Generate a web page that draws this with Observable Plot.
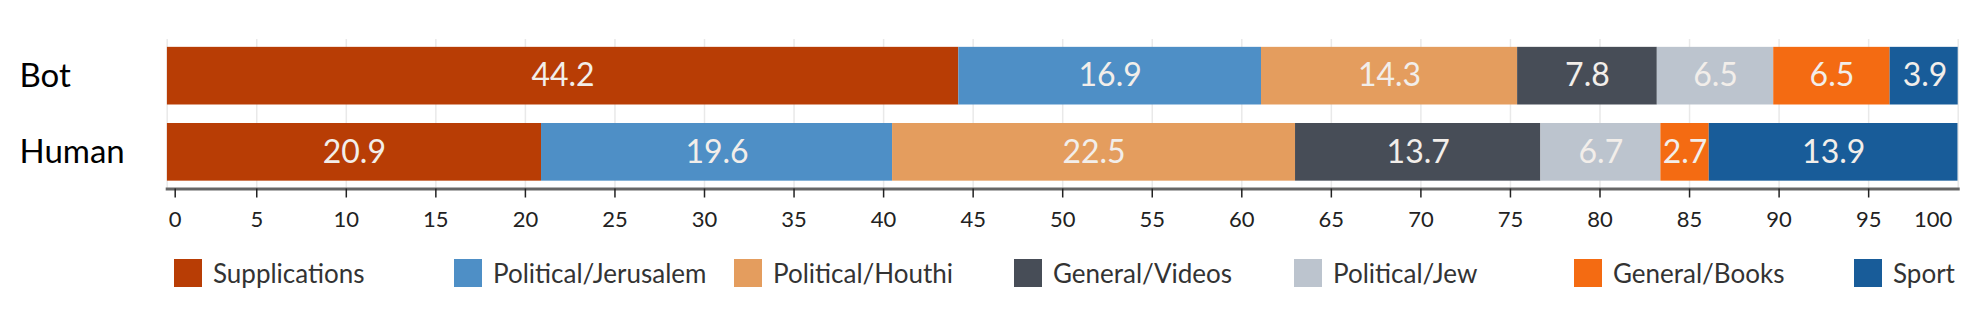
<!DOCTYPE html>
<html><head><meta charset="utf-8">
<script src="https://cdn.jsdelivr.net/npm/d3@7"></script>
<script src="https://cdn.jsdelivr.net/npm/@observablehq/plot@0.6"></script>
<style>
body{margin:0;background:#fff;font-family:Lato,sans-serif;}
#wrap{position:relative;width:1981px;height:309px;overflow:hidden;}
#legend{position:absolute;top:259px;left:0;width:1981px;height:28px;}
.item{position:absolute;top:0;display:flex;align-items:center;height:28px;white-space:nowrap;}
.sw{width:28px;height:28px;flex:none;}
.lb{margin-left:11px;font-size:26px;color:#333;line-height:28px;}
</style></head><body>
<div id="wrap"><div id="chart"></div><div id="legend"></div></div>
<script>
const groups = ["Bot", "Human"];
const categories = ["Supplications", "Political/Jerusalem", "Political/Houthi", "General/Videos", "Political/Jew", "General/Books", "Sport"];
const botValues = [44.2, 16.9, 14.3, 7.8, 6.5, 6.5, 3.9];
const humanValues = [20.9, 19.6, 22.5, 13.7, 6.7, 2.7, 13.9];
const colors = ["#B83D05", "#4E8FC6", "#E49D5E", "#474D57", "#BCC4CE", "#F46B12", "#185C99"];
const tickValues = [0, 5, 10, 15, 20, 25, 30, 35, 40, 45, 50, 55, 60, 65, 70, 75, 80, 85, 90, 95, 100];

const rows = [];
[botValues, humanValues].forEach((vals, gi) => {
  vals.forEach((v, ci) => rows.push({group: groups[gi], category: categories[ci], value: v}));
});

const innerTicks = tickValues.slice(1, -1);
const firstTick = tickValues.slice(0, 1);
const lastTick = tickValues.slice(-1);

const W = 1981, H = 245;
const chart = Plot.plot({
  width: W,
  height: H,
  marginLeft: 166.7,
  marginRight: 23.3,
  marginTop: 39,
  marginBottom: 56.5,
  style: {fontFamily: "Lato, sans-serif", background: "white"},
  x: {domain: [0, 100]},
  y: {domain: groups, paddingInner: 0.243, paddingOuter: 0.103, round: false},
  color: {domain: categories, range: colors},
  marks: [
    Plot.gridX(tickValues, {stroke: "#e9e9e9", strokeOpacity: 1, strokeWidth: 1.5}),
    Plot.barX(rows, {x: "value", y: "group", fill: "category", clip: "frame"}),
    Plot.text(rows, Plot.stackX({x: "value", y: "group", z: "category", text: d => d.value.toFixed(1), fill: "#F2EEEA", fontSize: 32, fontFamily: "Lato, sans-serif"})),
    Plot.frame({anchor: "bottom", stroke: "#666", strokeWidth: 3}),
    Plot.axisX(innerTicks, {tickSize: 9, tickPadding: 13, stroke: "#222", strokeWidth: 1.5, fontSize: 22, fill: "#222", label: null}),
    Plot.axisX(firstTick, {tickSize: 9, tickPadding: 13, stroke: "#222", strokeWidth: 1.5, fontSize: 22, fill: "#222", label: null, dx: 8}),
    Plot.axisX(lastTick, {tickSize: 0, tickPadding: 22, fontSize: 22, fill: "#222", label: null, dx: -25}),
    Plot.axisY({tickSize: 0, tickPadding: 0, textAnchor: "start", dx: -147.7, fontSize: 33, fill: "#000", label: null})
  ]
});
document.getElementById("chart").appendChild(chart);

const legend = document.getElementById("legend");
categories.forEach((c, i) => {
  const item = document.createElement("div");
  item.className = "item";
  item.style.left = (174 + i * 280) + "px";
  const sw = document.createElement("div");
  sw.className = "sw";
  sw.style.background = colors[i];
  const lb = document.createElement("span");
  lb.className = "lb";
  lb.textContent = c;
  item.appendChild(sw);
  item.appendChild(lb);
  legend.appendChild(item);
});
</script>
</body></html>
